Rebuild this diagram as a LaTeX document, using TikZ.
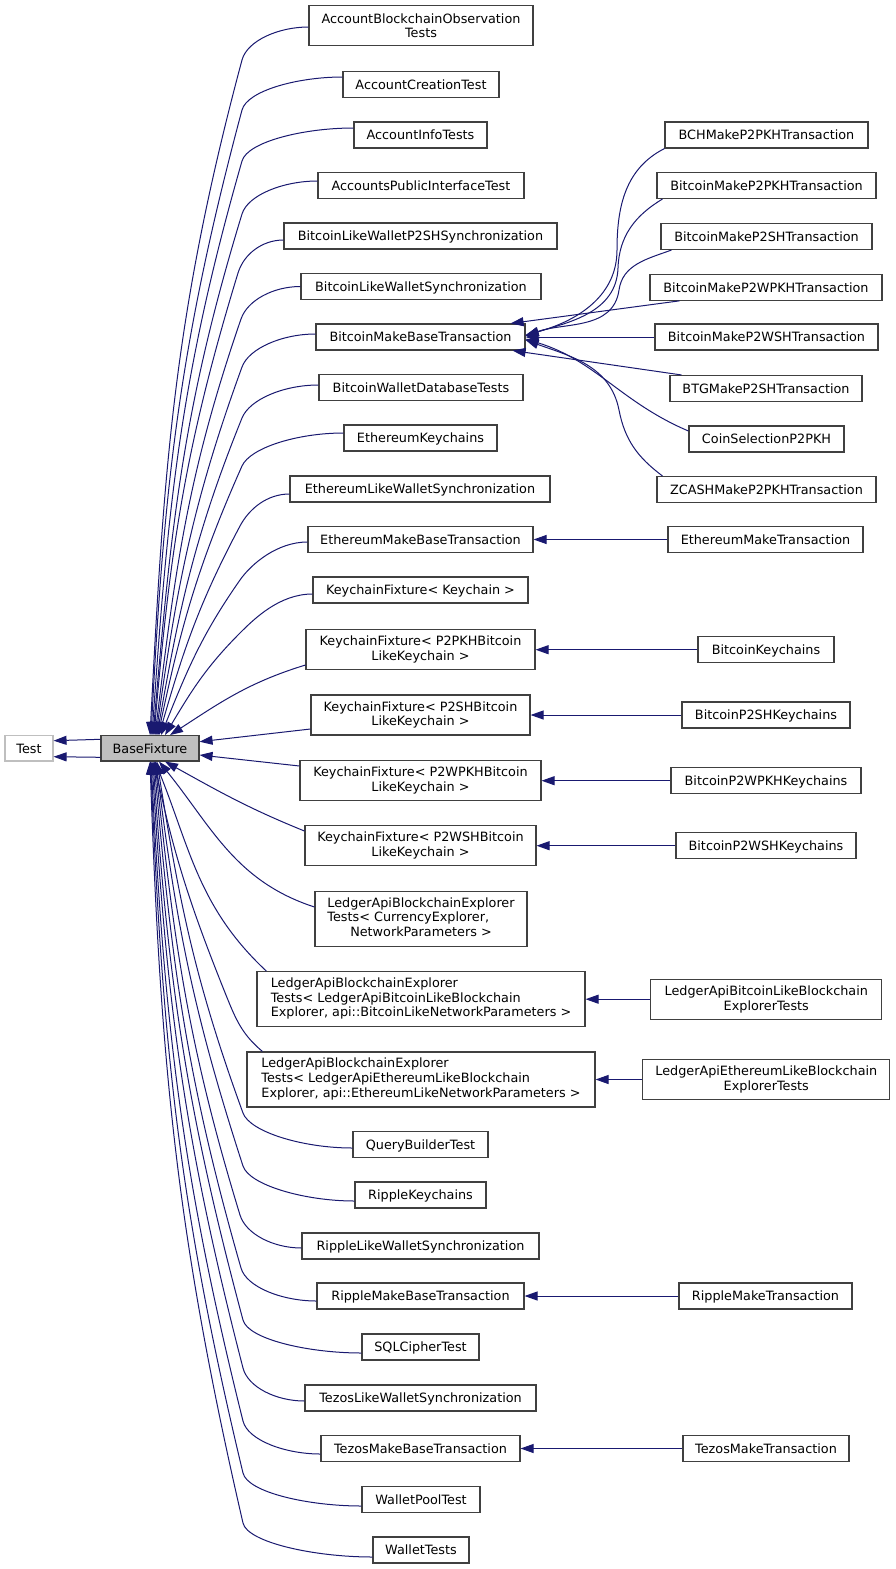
\documentclass[tikz,border=0pt]{standalone}
\usepackage{fontspec}
\setmainfont{DejaVu Sans}
\usetikzlibrary{arrows.meta}
\definecolor{edgeblue}{HTML}{191970}
\definecolor{boxline}{HTML}{404040}
\definecolor{extline}{HTML}{BFBFBF}
\definecolor{basefill}{HTML}{BFBFBF}
\begin{document}
\begin{tikzpicture}[x=1pt,y=1pt,
  cls/.style={draw=boxline, line width=1.1pt, inner sep=0pt, minimum height=26pt,
    font=\fontsize{12.8}{14.6}\selectfont, text=black},
  one/.style={cls, text height=9.4pt, text depth=0pt},
  two/.style={cls, align=center, minimum height=40pt},
  three/.style={cls, minimum height=55pt},
  edge/.style={draw=edgeblue, line width=1pt, {Triangle[length=13pt,width=9pt]}-},
  bseg/.style={out distance=20pt, in distance=#1}
]
\fill[white] (0,0) rectangle (896,-1569);
\useasboundingbox (0,0) rectangle (896,-1569);

% left
\node[one, draw=extline, minimum width=48pt, minimum height=25.4pt] (test) at (29,-748.3) {Test};
\node[one, fill=basefill, minimum width=98pt, minimum height=25.4pt] (bf) at (150,-748.3) {BaseFixture};

% middle column
\node[two, minimum width=224pt] (n1) at (421,-25.7) {AccountBlockchainObservation\\Tests};
\node[one, minimum width=156pt] (n2) at (421,-84.5) {AccountCreationTest};
\node[one, minimum width=133pt] (n3) at (420.5,-135) {AccountInfoTests};
\node[one, minimum width=206pt] (n4) at (421,-185.5) {AccountsPublicInterfaceTest};
\node[one, minimum width=273pt] (n5) at (420.5,-236) {BitcoinLikeWalletP2SHSynchronization};
\node[one, minimum width=240pt] (n6) at (421,-286.5) {BitcoinLikeWalletSynchronization};
\node[one, minimum width=209pt] (n7) at (420.5,-337) {BitcoinMakeBaseTransaction};
\node[one, minimum width=204pt] (n8) at (421,-387.5) {BitcoinWalletDatabaseTests};
\node[one, minimum width=153pt] (n9) at (420.5,-438) {EthereumKeychains};
\node[one, minimum width=260pt] (n10) at (420,-489) {EthereumLikeWalletSynchronization};
\node[one, minimum width=225pt] (n11) at (420.5,-539.5) {EthereumMakeBaseTransaction};
\node[one, minimum width=215pt] (n12) at (420.5,-590) {KeychainFixture< Keychain >};
\node[two, minimum width=229pt] (n13) at (420.5,-649.7) {KeychainFixture< P2PKHBitcoin\\LikeKeychain >};
\node[two, minimum width=219pt] (n14) at (420.5,-715) {KeychainFixture< P2SHBitcoin\\LikeKeychain >};
\node[two, minimum width=241pt] (n15) at (420.5,-780.7) {KeychainFixture< P2WPKHBitcoin\\LikeKeychain >};
\node[two, minimum width=231pt] (n16) at (420.5,-845.7) {KeychainFixture< P2WSHBitcoin\\LikeKeychain >};
\node[three, minimum width=212pt] (n17) at (421,-918.8) {\begin{tabular}{@{}l@{}}LedgerApiBlockchainExplorer\\Tests< CurrencyExplorer,\\\multicolumn{1}{@{}c@{}}{NetworkParameters >}\end{tabular}};
\node[three, minimum width=328pt] (n18) at (421,-999.2) {\begin{tabular}{@{}l@{}}LedgerApiBlockchainExplorer\\Tests< LedgerApiBitcoinLikeBlockchain\\Explorer, api::BitcoinLikeNetworkParameters >\end{tabular}};
\node[three, minimum width=348pt] (n19) at (421,-1079.5) {\begin{tabular}{@{}l@{}}LedgerApiBlockchainExplorer\\Tests< LedgerApiEthereumLikeBlockchain\\Explorer, api::EthereumLikeNetworkParameters >\end{tabular}};
\node[one, minimum width=135pt] (n20) at (420.5,-1144.5) {QueryBuilderTest};
\node[one, minimum width=131pt] (n21) at (420.5,-1195) {RippleKeychains};
\node[one, minimum width=237pt] (n22) at (420.5,-1246) {RippleLikeWalletSynchronization};
\node[one, minimum width=207pt] (n23) at (420.5,-1296) {RippleMakeBaseTransaction};
\node[one, minimum width=117pt] (n24) at (420.5,-1347) {SQLCipherTest};
\node[one, minimum width=231pt] (n25) at (420.5,-1398) {TezosLikeWalletSynchronization};
\node[one, minimum width=199pt] (n26) at (420.5,-1448.5) {TezosMakeBaseTransaction};
\node[one, minimum width=118pt] (n27) at (421,-1499.5) {WalletPoolTest};
\node[one, minimum width=96pt] (n28) at (421,-1550) {WalletTests};

% right column
\node[one, minimum width=203pt] (r1) at (766.5,-135) {BCHMakeP2PKHTransaction};
\node[one, minimum width=219pt] (r2) at (766.5,-185.5) {BitcoinMakeP2PKHTransaction};
\node[one, minimum width=211pt] (r3) at (766.5,-236.5) {BitcoinMakeP2SHTransaction};
\node[one, minimum width=232pt] (r4) at (766,-287.3) {BitcoinMakeP2WPKHTransaction};
\node[one, minimum width=223pt] (r5) at (766.5,-337) {BitcoinMakeP2WSHTransaction};
\node[one, minimum width=192pt] (r6) at (766,-388.5) {BTGMakeP2SHTransaction};
\node[one, minimum width=155pt] (r7) at (766.5,-439) {CoinSelectionP2PKH};
\node[one, minimum width=219pt] (r8) at (766.5,-489.5) {ZCASHMakeP2PKHTransaction};
\node[one, minimum width=195pt] (r9) at (765.5,-539.5) {EthereumMakeTransaction};
\node[one, minimum width=136pt] (r10) at (766,-649.7) {BitcoinKeychains};
\node[one, minimum width=168pt] (r11) at (766,-715) {BitcoinP2SHKeychains};
\node[one, minimum width=190pt] (r12) at (766,-780.7) {BitcoinP2WPKHKeychains};
\node[one, minimum width=180pt] (r13) at (766,-845.7) {BitcoinP2WSHKeychains};
\node[two, minimum width=231pt] (r14) at (766.3,-999.2) {LedgerApiBitcoinLikeBlockchain\\ExplorerTests};
\node[two, minimum width=247pt] (r15) at (766.3,-1079.5) {LedgerApiEthereumLikeBlockchain\\ExplorerTests};
\node[one, minimum width=173pt] (r16) at (765.5,-1296) {RippleMakeTransaction};
\node[one, minimum width=166pt] (r17) at (766,-1448.5) {TezosMakeTransaction};

% Test <- BaseFixture
\draw[edge] ([yshift=7.6]test.east) -- ([yshift=9]bf.west);
\draw[edge] ([yshift=-8.4]test.east) -- ([yshift=-9]bf.west);

% fan into BaseFixture, top
\draw[edge] (bf.north) to[out=87,in=255] (242,-60) to[out=75,in=180,bseg=30pt] ([yshift=-1.3]n1.west);
\draw[edge] ([xshift=1]bf.north) to[out=87,in=255] (242,-110) to[out=75,in=180,bseg=45pt] ([yshift=7.5]n2.west);
\draw[edge] ([xshift=2]bf.north) to[out=86,in=254] (242,-161) to[out=74,in=180,bseg=50pt] ([yshift=7]n3.west);
\draw[edge] ([xshift=3]bf.north) to[out=85,in=253] (242,-214) to[out=73,in=180,bseg=34pt] ([yshift=4.5]n4.west);
\draw[edge] ([xshift=4]bf.north) to[out=85,in=253] (238,-273) to[out=73,in=180,bseg=21pt] ([yshift=-4]n5.west);
\draw[edge] ([xshift=5]bf.north) to[out=83,in=251] (241,-319) to[out=71,in=180,bseg=27pt] (n6.west);
\draw[edge] ([xshift=6]bf.north) to[out=82,in=250] (242,-367) to[out=70,in=180,bseg=33pt] ([yshift=3]n7.west);
\draw[edge] ([xshift=7]bf.north) to[out=80,in=248] (242,-418) to[out=68,in=180,bseg=35pt] ([yshift=2.5]n8.west);
\draw[edge] ([xshift=8]bf.north) to[out=78,in=246] (242,-466) to[out=66,in=180,bseg=46pt] ([yshift=5]n9.west);
\draw[edge] ([xshift=9]bf.north) to[out=74,in=242] (240,-526) to[out=62,in=180,bseg=22pt] ([yshift=-5]n10.west);
\draw[edge] ([xshift=11]bf.north) to[out=68,in=235] (240,-580) to[out=55,in=180,bseg=30pt] ([yshift=-2.5]n11.west);
\draw[edge] ([xshift=15]bf.north) to[out=59,in=225] (240,-633) to[out=45,in=180,bseg=33pt] ([yshift=-4]n12.west);
\draw[edge] ([xshift=20]bf.north) to[out=33,in=197] ([yshift=-15.3]n13.west);
% side
\draw[edge] ([yshift=6.6]bf.east) -- ([yshift=-14]n14.west);
\draw[edge] ([yshift=-6.7]bf.east) -- ([yshift=14.7]n15.west);
% bottom
\draw[edge] ([xshift=15]bf.south) to[out=331,in=158] ([yshift=14.7]n16.west);
\draw[edge] ([xshift=9]bf.south) to[out=309,in=162] ([yshift=11.8]n17.west);
\draw[edge] ([xshift=5]bf.south) to[out=292,in=137] ([xshift=10]n18.north west);
\draw[edge] ([xshift=4]bf.south) to[out=282,in=112] (228,-1000) to[out=292,in=140] ([xshift=16]n19.north west);
\draw[edge] ([xshift=7]bf.south) to[out=279,in=110] (243,-1113) to[out=290,in=180,bseg=50pt] ([yshift=-3.5]n20.west);
\draw[edge] ([xshift=6]bf.south) to[out=277,in=108] (243,-1166) to[out=288,in=180,bseg=50pt] ([yshift=-6]n21.west);
\draw[edge] ([xshift=5]bf.south) to[out=276,in=107] (240,-1215) to[out=287,in=180,bseg=28pt] ([yshift=-2]n22.west);
\draw[edge] ([xshift=4]bf.south) to[out=275,in=106] (241,-1268) to[out=286,in=180,bseg=34pt] ([yshift=-5]n23.west);
\draw[edge] ([xshift=3]bf.south) to[out=274,in=105] (243,-1320) to[out=285,in=180,bseg=53pt] ([yshift=-6]n24.west);
\draw[edge] ([xshift=2]bf.south) to[out=273.5,in=104.5] (243,-1368) to[out=284.5,in=180,bseg=28pt] ([yshift=-3]n25.west);
\draw[edge] ([xshift=1]bf.south) to[out=273,in=104] (243,-1421) to[out=284,in=180,bseg=35pt] ([yshift=-5.5]n26.west);
\draw[edge] ([xshift=0.5]bf.south) to[out=272.5,in=103.5] (243,-1473) to[out=283.5,in=180,bseg=53pt] ([yshift=-6.5]n27.west);
\draw[edge] (bf.south) to[out=272,in=103] (243,-1523) to[out=283,in=180,bseg=58pt] ([yshift=-7]n28.west);

% fan into BitcoinMakeBaseTransaction
\draw[edge] ([yshift=2]n7.east) to[out=15,in=270] (617,-250) to[out=90,in=207] (r1.south west);
\draw[edge] ([yshift=1.5]n7.east) to[out=17,in=268] (618,-268) to[out=88,in=211] ([xshift=6]r2.south west);
\draw[edge] ([yshift=1]n7.east) to[out=20,in=262] (619,-290) to[out=82,in=200] ([xshift=11]r3.south west);
\draw[edge] ([xshift=-15]n7.north east) -- ([xshift=30]r4.south west);
\draw[edge] (n7.east) -- (r5.west);
\draw[edge] ([xshift=-13]n7.south east) -- ([xshift=12]r6.north west);
\draw[edge] ([yshift=-2]n7.east) to[out=343,in=157] ([yshift=8]r7.west);
\draw[edge] ([yshift=-3]n7.east) to[out=340,in=101] (619,-410) to[out=281,in=143] ([xshift=6]r8.north west);

% straight links
\draw[edge] (n11.east) -- (r9.west);
\draw[edge] (n13.east) -- (r10.west);
\draw[edge] (n14.east) -- (r11.west);
\draw[edge] (n15.east) -- (r12.west);
\draw[edge] (n16.east) -- (r13.west);
\draw[edge] (n18.east) -- (r14.west);
\draw[edge] (n19.east) -- (r15.west);
\draw[edge] (n23.east) -- (r16.west);
\draw[edge] (n26.east) -- (r17.west);
\end{tikzpicture}
\end{document}
